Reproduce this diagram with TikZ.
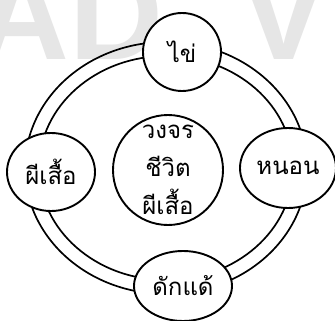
\documentclass[tikz,border=0pt]{standalone}
\usepackage{fontspec}
\setmainfont{Liberation Sans}
\newfontfamily\thaifont[Script=Thai]{Loma}
\usetikzlibrary{shapes.geometric}
\definecolor{wmark}{HTML}{E6E6E6}
\tikzset{
  ringline/.style={line width=1.7pt, draw=black},
  stagecirc/.style={circle, draw=black, line width=1.9pt, fill=white, inner sep=0pt,
    font=\thaifont\fontsize{24}{38}\selectfont, align=center},
  stageell/.style={ellipse, draw=black, line width=1.9pt, fill=white, inner sep=0pt,
    font=\thaifont\fontsize{24}{38}\selectfont, align=center},
  wm/.style={text=wmark, font=\fontsize{130}{130}\selectfont\bfseries, inner sep=0pt, anchor=base west}
}
\begin{document}
\begin{tikzpicture}[x=1pt,y=-1pt]
\useasboundingbox (0,0) rectangle (335,321);
\clip (0,0) rectangle (335,321);
\fill[white] (0,0) rectangle (335,321);
% watermark
\node[wm] (wmA) at (-25,60) {AD};
\node[wm] (wmV) at (240,60) {V};
% ring
\draw[ringline] (166,168) ellipse [x radius=141pt, y radius=126pt];
\draw[ringline] (166,168) ellipse [x radius=127pt, y radius=112pt];
% stages
\node[stagecirc, minimum size=78pt] (egg) at (182,52) {ไข่};
\node[stagecirc, minimum size=110pt] (cycle) at (168,170) {วงจร\\ชีวิต\\ผีเสื้อ};
\node[stageell, minimum width=88pt, minimum height=78pt] (adult) at (51,172) {ผีเสื้อ};
\node[stageell, minimum width=96pt, minimum height=80pt] (larva) at (288,168) {หนอน};
\node[stageell, minimum width=98pt, minimum height=70pt] (pupa) at (183,286) {ดักแด้};
\end{tikzpicture}
\end{document}
